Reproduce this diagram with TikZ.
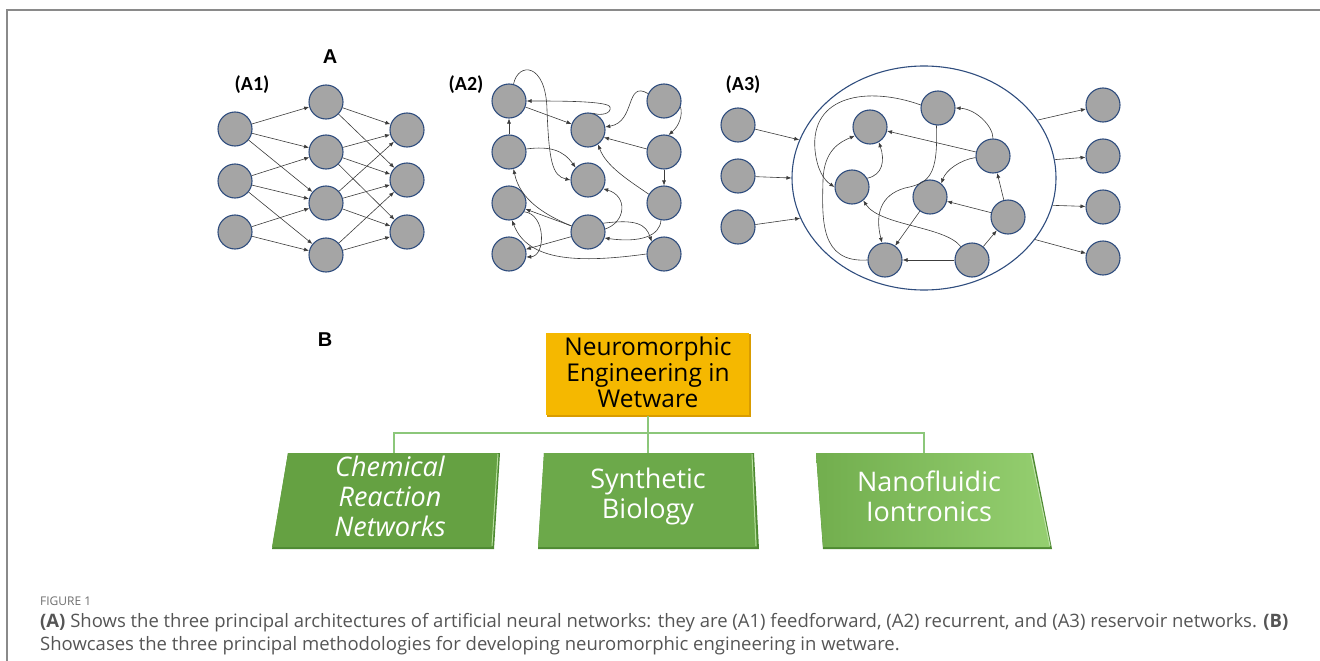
\documentclass[tikz,border=0pt]{standalone}
\usepackage{fontspec}
\setmainfont{Carlito}
\newfontfamily\arialfont{Liberation Sans}
\newfontfamily\capfont{Open Sans}
\newfontfamily\boxfont{Open Sans}
\usetikzlibrary{shapes.geometric,arrows.meta}

\definecolor{nodegray}{HTML}{A5A5A5}
\definecolor{nodeblue}{HTML}{2F4D7E}
\definecolor{linegray}{HTML}{3C3C3C}
\definecolor{framegray}{HTML}{8A8A8A}
\definecolor{boxorange}{HTML}{F5B800}
\definecolor{boxorangedark}{HTML}{D99C00}
\definecolor{greenA}{HTML}{65A142}
\definecolor{greenB}{HTML}{6CA94A}
\definecolor{greenC}{HTML}{72AE4E}
\definecolor{greenD}{HTML}{95CF70}
\definecolor{greenedge}{HTML}{4E8A32}
\definecolor{treegreen}{HTML}{8CC77A}
\definecolor{captext}{HTML}{555555}

\begin{document}
\begin{tikzpicture}[x=1pt,y=-1pt,
  neuron/.style={circle,draw=nodeblue,fill=nodegray,line width=1.1pt,minimum size=34pt,inner sep=0pt},
  arr/.style={draw=linegray,line width=0.6pt,-{Latex[length=5pt,width=4pt]}},
  panellabel/.style={font=\bfseries\fontsize{20}{24}\selectfont,inner sep=0pt},
  letterlabel/.style={font=\arialfont\bfseries\fontsize{20}{24}\selectfont,inner sep=0pt},
  boxtext/.style={text=white,align=center,font=\boxfont\fontsize{27}{30}\selectfont,inner sep=0pt},
  tree/.style={draw=treegreen,line width=1.2pt},
  captionline/.style={anchor=base west,inner sep=0pt,text=captext,font=\capfont\fontsize{18.5}{22}\selectfont},
]
\useasboundingbox (0,0) rectangle (1320,661);

% frame
\draw[framegray,line width=1.5pt] (7,661) -- (7,10) -- (1320,10);

% ---------- panel A labels ----------
\node[letterlabel] (labA) at (330,57) {A};
\node[panellabel] (labA1) at (252,85) {(A1)};
\node[panellabel] (labA2) at (466,85) {(A2)};
\node[panellabel] (labA3) at (743,85) {(A3)};

% ---------- A1: feedforward ----------
\foreach \i/\y in {1/129,2/181,3/232} \node[neuron] (f1\i) at (235,\y) {};
\foreach \i/\y in {1/102,2/152,3/203,4/255} \node[neuron] (f2\i) at (326,\y) {};
\foreach \i/\y in {1/130,2/180,3/232} \node[neuron] (f3\i) at (407,\y) {};
\foreach \a/\b in {1/1,1/2,1/3,2/2,2/3,2/4,3/3,3/4} \draw[arr] (f1\a) -- (f2\b);
\foreach \a/\b in {1/1,1/2,2/1,2/2,2/3,3/1,3/2,3/3,4/2,4/3} \draw[arr] (f2\a) -- (f3\b);

% ---------- A2: recurrent ----------
\foreach \i/\y in {1/101,2/152,3/203,4/254} \node[neuron] (b1\i) at (509,\y) {};
\foreach \i/\y in {1/130,2/180,3/232} \node[neuron] (b2\i) at (588,\y) {};
\foreach \i/\y in {1/101,2/152,3/203,4/254} \node[neuron] (b3\i) at (664,\y) {};

\draw[arr] (b12) -- (b11);
\draw[arr] (b11) -- (b21);
\draw[arr] (b21.75) .. controls (600,116) and (612,114) .. (610,107) .. controls (608,101) and (560,101) .. (b11.east);
\draw[arr] (b11.75) .. controls (518,62) and (546,62) .. (547,110) .. controls (549,160) and (552,176) .. (b22.west);
\draw[arr] (b12.10) .. controls (550,146) and (563,150) .. (b22.135);
\draw[arr] (b31.155) .. controls (625,80) and (636,122) .. (b21.10);
\draw[arr] (b31.-20) .. controls (683,115) and (679,126) .. (b32.75);
\draw[arr] (b32.170) -- (b21.-25);
\draw[arr] (b32) -- (b33);
\draw[arr] (b33.150) .. controls (628,180) and (606,166) .. (b21.-55);
\draw[arr] (b23.160) .. controls (545,215) and (520,200) .. (b12.-75);
\draw[arr] (b23) -- (b13);
\draw[arr] (b23) -- (b14);
\draw[arr] (b23.10) .. controls (626,222) and (628,196) .. (b22.-30);
\draw[arr] (b33.-100) .. controls (660,236) and (640,243) .. (b23.-20);
\draw[arr] (b23.30) .. controls (636,219) and (646,224) .. (b34.135);
\draw[arr] (b34.180) .. controls (580,263) and (528,262) .. (b13.-80);
\draw[arr] (b13.-30) .. controls (546,214) and (546,256) .. (b14.-10);

% ---------- A3: reservoir ----------
\node[ellipse,draw=nodeblue,line width=1.1pt,minimum width=264pt,minimum height=224pt,inner sep=0pt] (res) at (924,178) {};
\foreach \i/\y in {1/125,2/176,3/227} \node[neuron] (in\i) at (738,\y) {};
\foreach \i/\y in {1/105,2/156,3/207,4/258} \node[neuron] (out\i) at (1103,\y) {};
\node[neuron] (r1) at (870,127) {};
\node[neuron] (r2) at (938,108) {};
\node[neuron] (r3) at (852,187) {};
\node[neuron] (r4) at (930,197) {};
\node[neuron] (r5) at (885,260) {};
\node[neuron] (r6) at (972,260) {};
\node[neuron] (r7) at (993,156) {};
\node[neuron] (r8) at (1008,217) {};

\draw[arr] (in1) -- (res.163);
\draw[arr] (in2) -- (res.180);
\draw[arr] (in3) -- (res.-162);
\draw[arr] (res.27) -- (out1);
\draw[arr] (res.8) -- (out2);
\draw[arr] (res.-12) -- (out3);
\draw[arr] (res.-29) -- (out4);

\draw[arr] (r7) -- (r1);
\draw[arr] (r7.north) .. controls (993,126) and (976,109) .. (r2.east);
\draw[arr] (r7.185) .. controls (960,160) and (946,170) .. (r4.50);
\draw[arr] (r8) -- (r7);
\draw[arr] (r8) -- (r4);
\draw[arr] (r6) -- (r8);
\draw[arr] (r6) -- (r5);
\draw[arr] (r6.130) .. controls (945,226) and (880,226) .. (r3.-50);
\draw[arr] (r4) -- (r5);
\draw[arr] (r2.-95) .. controls (938,175) and (930,183) .. (905,188) .. controls (880,195) and (875,215) .. (r5.100);
\draw[arr] (r2.170) .. controls (868,86) and (810,95) .. (815,150) .. controls (817,170) and (824,180) .. (r3.180);
\draw[arr] (r3.30) .. controls (883,175) and (885,160) .. (r1.-60);
\draw[arr] (r5.180) .. controls (820,263) and (822,220) .. (823,180) .. controls (824,150) and (840,142) .. (r1.-150);

% ---------- panel B ----------
\node[letterlabel] (labB) at (325,340) {B};

% top box
\fill[boxorangedark] (547,334) rectangle (751,417);
\fill[boxorange] (546,333) rectangle (749,415);
\node[align=center,font=\boxfont\fontsize{24.5}{26}\selectfont,inner sep=0pt] (top) at (648,372)
  {Neuromorphic\\Engineering in\\Wetware};
\coordinate (topbot) at (648,416);

% three green parallelograms
\fill[greenedge] (288,453) -- (500,453) -- (494,549) -- (272,549) -- cycle;
\fill[greenA] (288,453) -- (498,453) -- (492,547) -- (272,547) -- cycle;
\draw[line width=1pt,color=greenD!70!white] (498,454) -- (492,546);

\fill[greenedge] (544,453) -- (754,453) -- (759,549) -- (538,549) -- cycle;
\fill[greenB] (544,453) -- (752,453) -- (757,547) -- (538,547) -- cycle;
\draw[line width=1pt,color=greenD!70!white] (752,454) -- (756,546);

\fill[greenedge] (816,453) -- (1033,453) -- (1052,549) -- (823,549) -- cycle;
\shade[left color=greenC,right color=greenD] (816,453) -- (1031,453) -- (1050,547) -- (823,547) -- cycle;
\draw[line width=1pt,color=greenD!60!white] (1031,454) -- (1050,546);

\node[boxtext,font=\boxfont\itshape\fontsize{27}{30}\selectfont] (chem) at (390,496) {Chemical\\Reaction\\Networks};
\node[boxtext] (synth) at (648,496) {Synthetic\\Biology};
\node[boxtext] (nano) at (929,496) {Nanofluidic\\Iontronics};

\coordinate (chemtop) at (394,453);
\coordinate (synthtop) at (648,453);
\coordinate (nanotop) at (924,453);

\draw[tree] (topbot) -- (synthtop);
\draw[tree] (chemtop) -- ++(0,-20) -| (nanotop);

% ---------- caption ----------
\node[anchor=base west,inner sep=0pt,text=captext!85!white,font=\capfont\fontsize{12}{14}\selectfont] (fig) at (40,605) {FIGURE 1};
\node[captionline] (cap1) at (40,627)
  {\textbf{(A)} Shows the three principal architectures of artificial neural networks: they are (A1) feedforward, (A2) recurrent, and (A3) reservoir networks. \textbf{(B)}};
\node[captionline] (cap2) at (40,650)
  {Showcases the three principal methodologies for developing neuromorphic engineering in wetware.};
\end{tikzpicture}
\end{document}
